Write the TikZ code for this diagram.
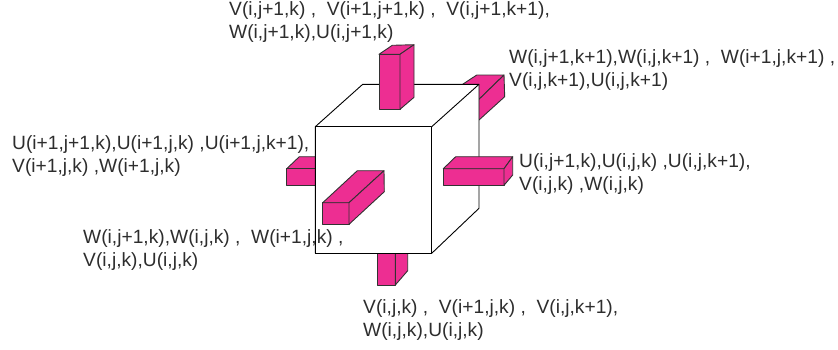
\documentclass[tikz,border=0pt]{standalone}
\usepackage{fontspec}
\setmainfont{Liberation Sans}
\definecolor{barpink}{RGB}{237,46,146}
\definecolor{edgegray}{RGB}{50,50,50}
\definecolor{labelgray}{RGB}{45,45,45}
\begin{document}
\begin{tikzpicture}[
  x=1pt, y=-1pt,
  barface/.style={draw=edgegray, line width=0.9pt, fill=barpink, line join=round},
  cubeface/.style={draw=black, line width=0.9pt, fill=white, line join=round},
  fluxlabel/.style={
    anchor=north west, inner sep=0pt, align=left, text=labelgray,
    font=\fontsize{19.2}{23}\selectfont
  }
]
\useasboundingbox (0,0) rectangle (838,349);

% bars behind the cube
\draw[barface] (476.7,75) -- (504,75) -- (479,99.3) -- (440,99.3) -- cycle;
\draw[barface] (504,75) -- (504.7,96.7) -- (479,120) -- (440,120) -- (440,99.3) -- (479,99.3) -- cycle;
\draw[barface] (299.3,156.7) -- (330,156.7) -- (330,168.7) -- (286.7,168.7) -- cycle;
\draw[barface] (286.7,168.7) rectangle (330,185.3);
\draw[barface] (377.7,240) rectangle (395.3,285);
\draw[barface] (395.3,240) -- (407.7,240) -- (407.7,270.7) -- (395.3,285) -- cycle;

% cube
\draw[cubeface] (315.3,126.7) -- (362.7,84.3) -- (479,84.3) -- (479,208.3) -- (431.7,253.3) -- (315.3,253.3) -- cycle;
\draw[cubeface] (315.3,126.7) rectangle (431.7,253.3);
\draw[cubeface] (431.7,126.7) -- (479,84.3);

% top bar
\draw[barface] (379,54.3) rectangle (400,109.3);
\draw[barface] (379,54.3) -- (392.3,45.3) -- (414,44.7) -- (400,54.3) -- cycle;
\draw[barface] (400,54.3) -- (414,44.7) -- (414,97.3) -- (400,109.3) -- cycle;

% right bar
\draw[barface] (443.3,168.7) rectangle (504,185.3);
\draw[barface] (443.3,168.7) -- (455.7,156.7) -- (512.7,156.7) -- (504,168.7) -- cycle;
\draw[barface] (504,168.7) -- (512.7,156.7) -- (512.7,175) -- (504,185.3) -- cycle;

% centre bar
\draw[barface] (322.7,202.7) rectangle (349,224.3);
\draw[barface] (322.7,202.7) -- (357.3,170.7) -- (384,170.7) -- (349,202.7) -- cycle;
\draw[barface] (349,202.7) -- (384,170.7) -- (384.3,191.7) -- (349,224.3) -- cycle;

% labels
\node[fluxlabel] (lbltop) at (229,1.5) {V(i,j+1,k) ,\ \ V(i+1,j+1,k) ,\ \ V(i,j+1,k+1),\\W(i,j+1,k),U(i,j+1,k)};
\node[fluxlabel] (lblback) at (509,49.5) {W(i,j+1,k+1),W(i,j,k+1) ,\ \ W(i+1,j,k+1) ,\\V(i,j,k+1),U(i,j,k+1)};
\node[fluxlabel] (lblleft) at (12,135.5) {U(i+1,j+1,k),U(i+1,j,k) ,U(i+1,j,k+1),\\V(i+1,j,k) ,W(i+1,j,k)};
\node[fluxlabel] (lblright) at (519,153.5) {U(i,j+1,k),U(i,j,k) ,U(i,j,k+1),\\V(i,j,k) ,W(i,j,k)};
\node[fluxlabel] (lblfront) at (83,229) {W(i,j+1,k),W(i,j,k) ,\ \ W(i+1,j,k) ,\\V(i,j,k),U(i,j,k)};
\node[fluxlabel] (lblbottom) at (363,299.5) {V(i,j,k) ,\ \ V(i+1,j,k) ,\ \ V(i,j,k+1),\\W(i,j,k),U(i,j,k)};
\end{tikzpicture}
\end{document}
